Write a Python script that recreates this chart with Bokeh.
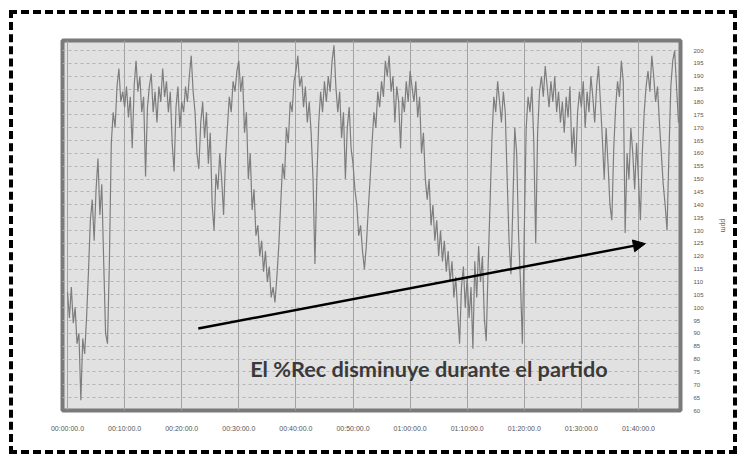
from bokeh.plotting import figure
from bokeh.models import FixedTicker, Arrow, NormalHead, Label
from bokeh.embed import file_html
from bokeh.resources import INLINE

# ---- data (heart rate, one reading every 20 s) ----
sample_step_s = 20
hr_bpm = [
    106, 96, 108, 94, 100, 86, 90, 64, 88, 82,
    96, 114, 134, 142, 126, 146, 158, 136, 148, 118,
    90, 86, 118, 164, 176, 170, 186, 193, 180, 184,
    178, 186, 174, 182, 162, 186, 196, 184, 190, 176,
    182, 151, 178, 186, 191, 176, 184, 172, 186, 180,
    193, 182, 188, 176, 184, 164, 153, 178, 186, 170,
    180, 176, 186, 180, 190, 198, 184, 176, 160, 154,
    172, 180, 166, 176, 156, 168, 140, 130, 152, 146,
    160, 150, 136, 158, 170, 182, 176, 188, 184, 192,
    196, 184, 190, 168, 176, 150, 160, 138, 146, 128,
    132, 120, 126, 114, 122, 110, 116, 104, 108, 102,
    112, 124, 140, 156, 150, 170, 164, 180, 176, 188,
    192, 198, 186, 190, 178, 186, 172, 180, 168, 150,
    117, 150, 172, 184, 176, 188, 180, 190, 184, 196,
    202, 186, 176, 184, 166, 176, 150, 170, 178, 162,
    156, 146, 140, 128, 132, 122, 115, 124, 138, 150,
    164, 176, 170, 184, 178, 188, 182, 196, 190, 198,
    184, 190, 172, 186, 180, 162, 182, 176, 188, 180,
    192, 186, 180, 188, 174, 182, 160, 168, 150, 142,
    150, 132, 140, 126, 134, 120, 130, 118, 126, 114,
    122, 110, 118, 104, 112, 98, 86, 108, 116, 100,
    112, 96, 108, 84, 118, 104, 124, 110, 120, 96,
    87, 116, 140, 166, 182, 176, 188, 180, 172, 184,
    176, 150, 126, 113, 140, 170, 160, 128, 110, 86,
    130, 170, 182, 176, 186, 164, 125, 168, 184, 190,
    182, 194, 186, 178, 188, 180, 190, 176, 184, 172,
    180, 168, 182, 174, 186, 160, 170, 155, 176, 184,
    178, 188, 170, 184, 176, 190, 182, 172, 186, 194,
    180, 166, 150, 170, 156, 140, 134, 162, 178, 188,
    182, 196, 188, 129, 160, 150, 170, 160, 146, 164,
    150, 134, 160, 176, 186, 192, 184, 198, 190, 180,
    186, 172, 160, 148, 140, 130, 160, 186, 196, 200,
    186, 172,
]
time_min = [i * sample_step_s / 60.0 for i in range(len(hr_bpm))]

x_ticks = [0, 10, 20, 30, 40, 50, 60, 70, 80, 90, 100]
x_tick_labels = ["00:00:00.0", "00:10:00.0", "00:20:00.0", "00:30:00.0",
                 "00:40:00.0", "00:50:00.0", "01:00:00.0", "01:10:00.0",
                 "01:20:00.0", "01:30:00.0", "01:40:00.0"]
y_ticks = [60, 65, 70, 75, 80, 85, 90, 95, 100, 105, 110, 115, 120, 125, 130,
           135, 140, 145, 150, 155, 160, 165, 170, 175, 180, 185, 190, 195, 200]
y_axis_title = "ppm"
note_text = "El %Rec disminuye durante el partido"
trend_start = (22.9, 91.9)
trend_end = (101.2, 124.9)
note_pos = (63.3, 76.3)

# ---- figure ----
p = figure(width=728, height=444, x_range=(-0.88, 107.36), y_range=(60, 203.9),
           output_backend="svg", toolbar_location=None, y_axis_location="right",
           min_border_left=49, min_border_right=61, min_border_top=26,
           min_border_bottom=48, background_fill_color="#e1e1e1",
           border_fill_color="white", border_fill_alpha=0)
p.styles = {"border": "4px dashed black", "margin-left": "9px", "margin-top": "10px"}

p.outline_line_color = "#7a7a7a"
p.outline_line_width = 4

# grid
p.xgrid.ticker = FixedTicker(ticks=x_ticks)
p.xgrid.grid_line_color = "#a2a2a2"
p.xgrid.grid_line_width = 1
p.ygrid.ticker = FixedTicker(ticks=y_ticks)
p.ygrid.grid_line_color = "#b4b4b4"
p.ygrid.grid_line_dash = "3 3"

# axes
xa = p.xaxis[0]
xa.ticker = FixedTicker(ticks=x_ticks)
xa.major_label_overrides = {t: l for t, l in zip(x_ticks, x_tick_labels)}
xa.major_label_text_font_size = "7px"
xa.major_label_text_color = "#555555"
xa.major_label_standoff = 14
xa.axis_line_color = None
xa.major_tick_line_color = None
xa.major_tick_out = 0
xa.major_tick_in = 0
xa.minor_tick_line_color = None
xa.minor_tick_out = 0

ya = p.yaxis[0]
ya.ticker = FixedTicker(ticks=y_ticks)
ya.major_label_text_font_size = "6px"
ya.major_label_text_color = "#555555"
ya.major_label_standoff = 13
ya.axis_line_color = None
ya.major_tick_line_color = None
ya.major_tick_out = 0
ya.major_tick_in = 0
ya.minor_tick_line_color = None
ya.minor_tick_out = 0
ya.axis_label = y_axis_title
ya.axis_label_text_font_size = "7px"
ya.axis_label_text_font_style = "normal"
ya.axis_label_text_color = "#555555"
ya.axis_label_standoff = 13

# data trace
p.line(time_min, hr_bpm, line_color="#7d7d7d", line_width=1.2)

# trend arrow
p.add_layout(Arrow(end=NormalHead(size=12, fill_color="black", line_color="black"),
                   x_start=trend_start[0], y_start=trend_start[1],
                   x_end=trend_end[0], y_end=trend_end[1],
                   line_color="black", line_width=2.5))

p.add_layout(Label(x=note_pos[0], y=note_pos[1], text=note_text,
                   text_align="center", text_baseline="middle",
                   text_font="Lato", text_font_style="bold",
                   text_font_size="21.7px", text_color="#3a3a3a"))

open("out.html", "w").write(file_html(p, INLINE))
